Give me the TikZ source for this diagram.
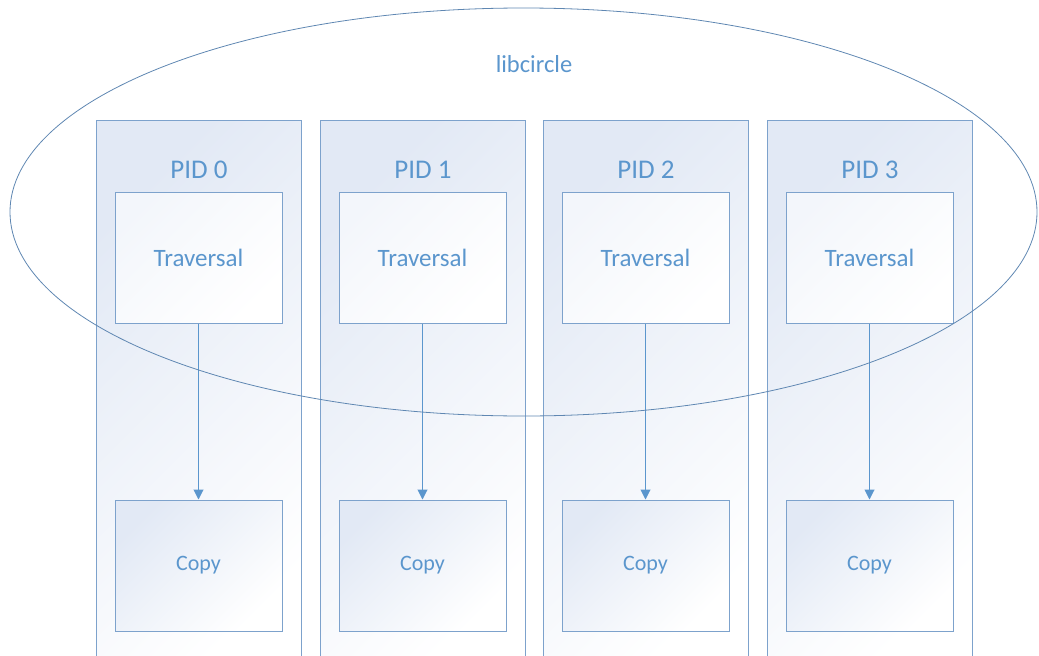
\documentclass[tikz,border=0pt]{standalone}
\usepackage{fontspec}
\setmainfont{Carlito}
\usetikzlibrary{arrows.meta,shapes.geometric}
\definecolor{txtc}{RGB}{91,150,205}
\definecolor{boxc}{RGB}{125,162,204}
\definecolor{ellc}{RGB}{95,135,178}
\definecolor{shadec}{RGB}{226,233,245}
\tikzset{
  panel/.style={left color=shadec, middle color=white, right color=white, shading angle=45},
  travbox/.style={draw=boxc, line width=1pt, minimum width=167pt, minimum height=131pt, inner sep=0pt,
    left color=shadec!40, right color=white, shading angle=45, text=txtc, font=\fontsize{25}{30}\selectfont},
  copybox/.style={draw=boxc, line width=1pt, minimum width=167pt, minimum height=131pt, inner sep=0pt,
    left color=shadec, right color=white, shading angle=45, text=txtc, font=\fontsize{22}{26}\selectfont},
  pidlabel/.style={text=txtc, font=\fontsize{27}{32}\selectfont, inner sep=0pt},
  flow/.style={draw=txtc, line width=1pt, -{Triangle[length=10pt,width=10pt]}},
}
\begin{document}
\begin{tikzpicture}[x=1pt,y=-1pt]
\useasboundingbox (0,0) rectangle (1039,656);
\clip (0,0) rectangle (1039,656);
\foreach \i/\x in {0/96,1/320,2/543,3/767}{
  \shade[panel] (\x,120) rectangle ++(205,560);
  \draw[boxc, line width=1pt] (\x,120) rectangle ++(205,560);
  \node[pidlabel] (pid\i) at (\x+103,170) {PID \i};
  \node[travbox] (trav\i) at (\x+102.5,257.5) {Traversal};
  \node[copybox] (copy\i) at (\x+102.5,565.5) {\raisebox{3pt}{Copy}};
  \draw[flow] (trav\i.south) -- (copy\i.north);
}
\node[draw=ellc, line width=0.8pt, ellipse, minimum width=1027pt, minimum height=408pt, inner sep=0pt] (lib) at (523.5,212) {};
\node[text=txtc, font=\fontsize{24.5}{29}\selectfont] (libl) at (534,64) {libcircle};
\end{tikzpicture}
\end{document}
